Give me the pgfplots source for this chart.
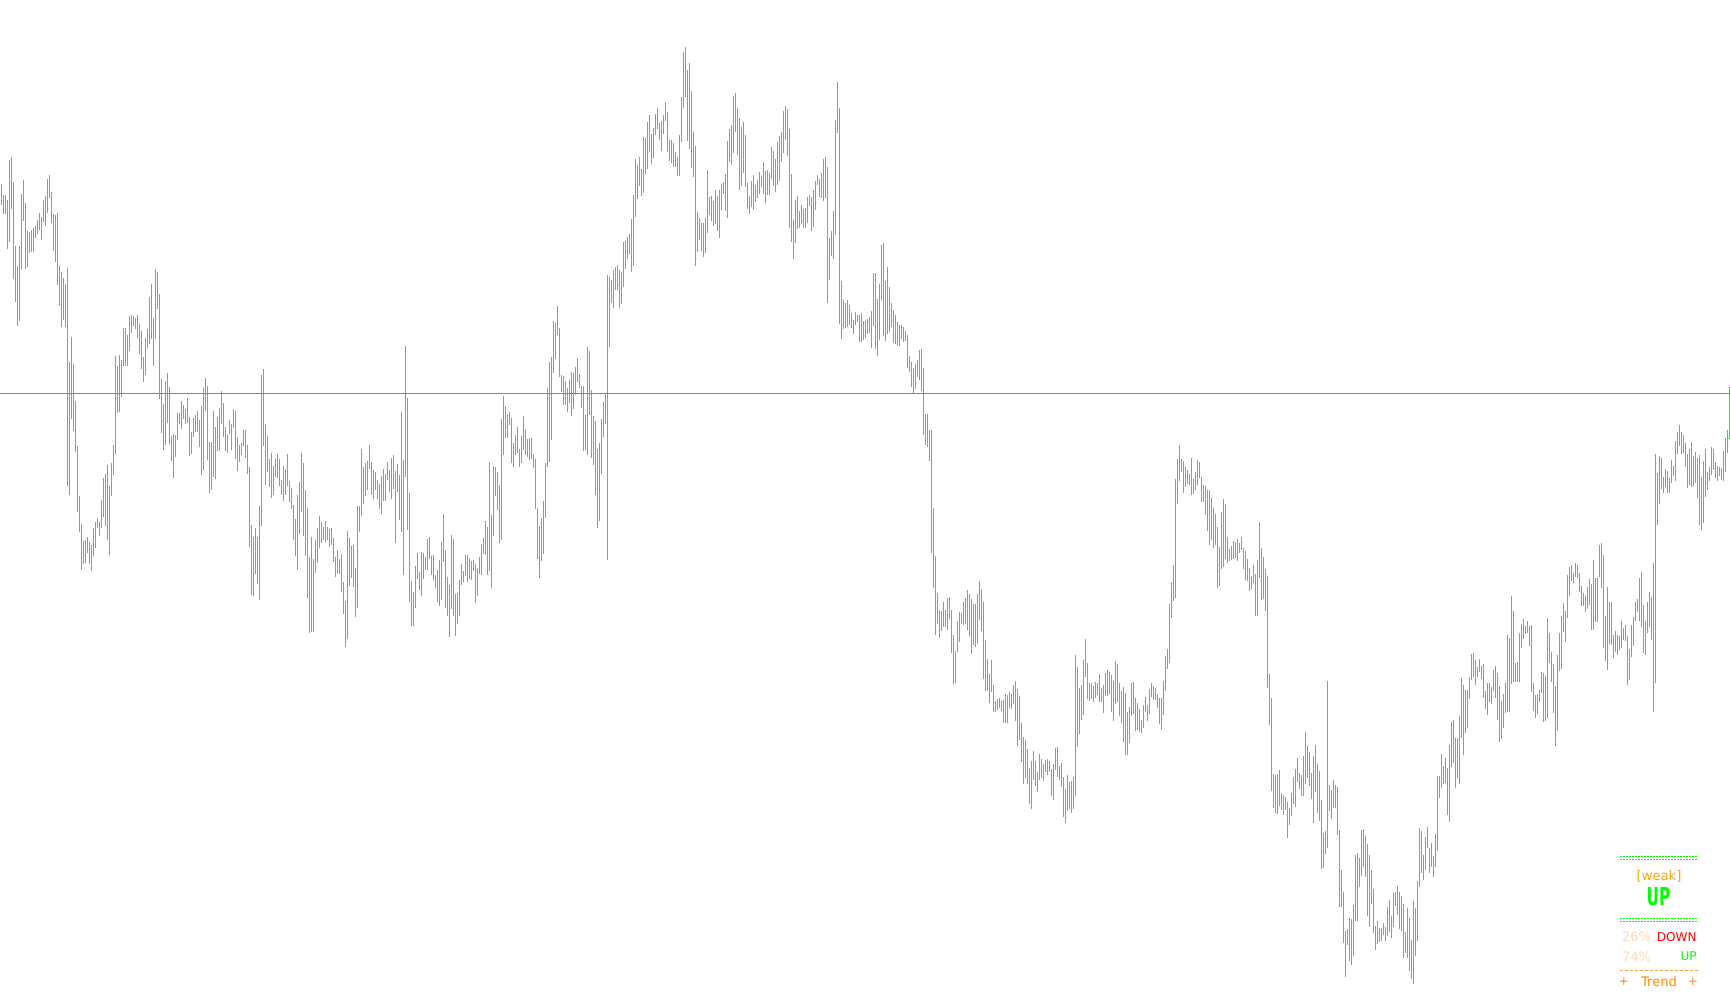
\documentclass[border=0pt]{standalone}
\usepackage{fontspec}
\setmainfont{DejaVu Sans}
\usepackage{pgfplots}
\pgfplotsset{compat=1.18}

\definecolor{barcol}{RGB}{30,235,30}
\definecolor{levelcol}{RGB}{119,136,153}
\definecolor{lime}{RGB}{0,255,0}
\definecolor{peach}{RGB}{255,218,185}
\definecolor{orange1}{RGB}{255,165,0}
\definecolor{orange2}{RGB}{255,140,0}

% bars are stored by screen position: t,b are rows at 3x, #1 left edge, #2 top edge of the block
\pgfplotsset{
  table/seg/.style 2 args={
    x expr=\coordindex*2+#1+1.5,
    y expr=#2+\thisrow{t}/3,
    y error expr=(\thisrow{b}-\thisrow{t})/3
  },
  hl/.style={
    draw=none, mark=none, forget plot,
    error bars/.cd, y dir=plus, y explicit, error mark=none,
    error bar style={barcol, line width=0.7bp}
  }
}

\begin{document}
\begin{tikzpicture}
\begin{axis}[
  scale only axis,
  width=865bp, height=502.5bp,
  xmin=0, xmax=1730, ymin=0, ymax=1005,
  y dir=reverse,
  ticks=none,
  axis line style={draw=none},
  axis background/.style={fill=white},
  clip=true
]
\addplot[hl] table[seg={0}{130}] {
t b
162 225
195 252
195 252
210 357
90 336
81 237
156 447
348 516
408 588
348 573
192 417
150 273
219 417
303 411
306 369
300 366
294 366
288 324
270 312
250 300
262 330
210 276
197 288
147 250
135 204
186 279
252 363
255 396
249 465
408 528
426 591
444 570
462 591
414 1068
696 1095
621 867
702 903
813 966
948 1146
1098 1206
1182 1320
1233 1302
1230 1299
1221 1269
1236 1302
1245 1323
1194 1278
1176 1254
1164 1194
1176 1218
1110 1194
1044 1161
1032 1188
1005 1230
1068 1275
999 1098
945 1035
678 972
708 849
675 846
690 801
594 708
594 708
615 708
558 663
555 609
558 588
564 597
555 624
582 672
603 717
681 756
624 735
597 654
501 642
462 627
564 708
417 627
426 537
492 807
747 909
822 960
753 945
729 879
771 942
918 993
912 1044
915 981
849 930
849 882
813 897
825 867
837 882
804 879
861 978
906 972
864 921
855 906
843 906
870 951
828 1035
774 1020
744 843
768 990
936 1089
936 1080
843 1041
891 1047
861 963
834 963
783 882
819 921
891 963
915 969
870 912
882 960
837 894
843 987
921 1023
945 996
939 975
900 948
900 984
945 1032
1011 1251
1185 1395
1221 1398
1194 1332
1221 1362
1128 1410
735 1188
717 948
882 1065
918 1026
987 1071
969 1104
1008 1095
987 1041
972 1044
987 1068
1050 1095
1008 1113
1017 1095
972 1068
1053 1116
1074 1137
1125 1230
1167 1278
1095 1320
1056 1212
};
\addplot[hl] table[seg={300}{340}] {
t b
339 516
369 588
450 648
504 774
651 879
591 876
657 876
600 699
564 669
528 624
546 609
560 600
543 606
561 600
567 621
564 615
594 666
651 711
630 699
657 702
642 756
726 822
783 921
573 897
594 738
618 714
615 741
684 831
498 804
498 576
327 528
381 492
369 468
363 450
315 388
366 465
390 477
396 450
420 477
432 507
408 522
387 483
402 483
366 420
390 456
354 477
345 447
393 609
372 456
405 540
216 576
360 705
18 411
174 570
459 786
723 858
756 858
678 804
639 717
696 750
636 768
639 717
651 690
597 690
591 657
648 705
645 720
705 744
690 786
660 798
606 780
522 666
630 804
711 828
735 891
585 807
597 828
762 888
759 852
720 828
};
\addplot[hl] table[seg={460}{300}] {
t b
792 855
813 846
765 828
765 846
774 837
783 840
780 813
792 909
804 888
771 822
732 825
714 762
663 765
681 825
486 813
645 864
498 708
501 588
516 630
555 729
357 720
288 465
318 414
342 414
336 375
354 489
429 501
405 465
381 459
447 501
408 489
348 450
387 465
417 471
417 480
414 477
462 504
477 627
624 777
678 834
654 783
603 762
489 654
264 501
186 486
171 420
63 219
69 177
18 105
84 231
225 276
228 315
243 315
264 336
240 309
216 348
219 327
201 285
174 246
222 264
258 324
258 453
345 450
141 465
153 345
270 474
348 495
363 585
447 684
429 663
357 522
306 411
279 372
-75 780
-70 141
-60 9
-90 24
-100 -30
-105 -30
-90 24
};
\addplot[hl] table[seg={620}{40}] {
t b
696 792
606 741
603 687
591 657
582 642
537 696
465 678
357 531
375 477
351 438
387 468
291 459
294 402
246 387
225 336
282 372
264 354
222 285
204 267
249 300
243 333
225 282
186 243
216 336
300 363
300 369
309 381
336 381
351 408
285 408
171 306
36 204
21 171
90 303
69 327
153 384
276 411
318 678
516 636
534 600
549 633
549 651
534 639
390 579
471 525
468 543
483 558
450 552
468 573
450 594
432 510
426 462
402 513
303 534
267 366
255 372
168 339
159 276
204 345
234 450
261 438
246 399
285 441
429 507
468 522
423 501
405 510
435 486
420 474
396 462
408 441
366 462
393 489
390 465
399 465
321 417
333 438
357 456
306 435
288 423
};
% this block was read at 2.53x
\addplot[hl] table[seg={780}{70}, y expr=70+\thisrow{t}/2.53, y error expr=(\thisrow{b}-\thisrow{t})/2.53] {
t b
157 233
104 210
92 177
99 217
149 400
264 435
379 478
329 438
320 402
357 400
341 390
351 400
349 400
321 388
315 344
321 407
303 397
281 354
266 292
277 321
260 324
225 331
220 325
245 589
425 531
407 471
357 478
126 417
30 159
96 642
534 680
582 655
589 652
582 649
594 645
615 652
632 668
612 645
620 638
620 688
615 688
635 682
635 678
631 668
625 665
609 703
513 647
513 706
579 723
541 683
443 582
438 673
534 685
498 668
549 662
589 650
607 690
620 693
637 695
645 698
645 680
651 688
660 685
670 754
723 764
738 802
754 818
744 807
733 777
708 785
706 812
754 923
870 948
870 953
912 989
910 1222
1108 1310
1229 1429
1323 1401
1366 1436
};
\addplot[hl] table[seg={940}{570}] {
t b
123 183
96 171
120 171
84 180
81 147
120 249
195 342
243 339
153 246
126 216
129 162
96 165
84 162
60 180
72 198
87 252
102 225
102 231
72 222
33 150
57 183
96 327
210 363
267 363
312 399
270 366
345 426
393 426
387 420
384 414
393 423
390 459
372 459
375 459
366 414
372 417
345 402
333 453
357 528
378 510
459 576
501 642
510 624
537 642
594 702
573 717
543 630
573 648
606 666
552 630
567 624
582 633
570 606
567 615
573 606
597 678
582 690
534 600
531 621
588 630
579 651
621 741
657 759
615 723
636 717
633 729
621 717
255 678
291 531
354 492
345 450
270 435
207 321
279 387
339 393
339 387
348 396
336 384
339 375
312 396
};
\addplot[hl] table[seg={1100}{430}] {
t b
774 816
765 849
729 798
720 798
726 792
735 846
750 873
693 822
702 816
759 858
783 879
771 936
789 975
846 975
831 939
759 858
756 852
804 903
819 900
837 906
870 909
825 894
801 846
825 873
777 852
759 801
768 810
774 810
792 834
804 882
804 900
753 855
678 783
657 717
522 699
456 564
405 513
147 504
87 222
45 153
87 126
93 189
111 171
120 162
132 165
84 195
147 192
126 180
90 165
96 144
141 216
165 216
168 255
180 303
180 345
204 330
234 354
252 345
291 474
351 468
246 417
207 411
222 387
321 399
357 393
348 390
333 387
336 384
327 393
339 369
321 360
354 417
363 450
387 453
414 483
438 477
405 459
432 558
390 558
276 444
};
\addplot[hl] table[seg={1260}{510}] {
t b
114 270
141 267
177 303
198 534
492 645
564 843
792 894
795 909
792 912
780 888
849 900
855 915
861 900
876 984
894 945
849 918
801 882
777 891
744 816
789 837
795 858
738 858
666 822
708 804
726 828
789 867
738 939
705 846
762 909
783 933
870 1077
969 1074
963 1032
513 1014
825 903
840 927
810 894
825 894
831 975
960 1191
1080 1191
1146 1299
1263 1401
1257 1305
1224 1353
1227 1365
1185 1338
1035 1233
1029 1233
1044 1131
960 1098
957 1071
978 1101
1002 1218
1035 1251
1080 1182
1137 1269
1248 1320
1233 1302
1254 1296
1254 1293
1239 1275
1251 1293
1191 1278
1170 1266
1218 1284
1149 1251
1146 1188
1128 1215
1146 1257
1158 1263
1182 1344
1266 1329
1194 1344
1224 1383
1290 1407
1173 1422
1194 1338
1113 1293
954 1131
};
\addplot[hl] table[seg={1420}{580}] {
t b
753 880
825 900
771 870
741 804
804 880
789 860
828 890
762 860
588 813
588 654
522 624
558 612
534 609
564 705
495 726
426 561
420 549
474 624
474 594
408 612
294 474
315 525
330 459
330 444
291 357
222 300
219 291
240 315
261 291
237 276
258 297
252 354
333 387
309 405
309 366
321 372
270 333
258 354
279 420
318 486
363 477
342 444
309 399
165 396
174 396
48 312
93 306
249 306
246 306
159 306
132 204
117 177
138 162
123 159
138 198
135 336
309 393
345 414
342 402
330 366
276 339
279 426
288 423
114 414
159 249
216 306
252 399
318 498
225 453
159 273
108 267
69 156
93 186
-15 114
-40 48
-45 3
-20 9
-50 -10
-45 -5
-20 36
};
\addplot[hl] table[seg={1580}{530}] {
t b
168 228
189 228
198 246
171 237
147 225
162 300
90 300
144 276
144 276
45 141
39 174
75 354
258 393
171 420
216 342
216 345
315 384
303 366
315 375
318 360
273 354
294 330
285 333
318 465
357 450
285 381
261 348
216 273
207 246
144 273
126 291
225 369
273 375
216 309
186 291
201 330
99 546
-228 459
};
\addplot[hl] table[seg={1656}{370}] {
t b
309 465
258 402
264 357
321 369
297 354
303 369
324 369
270 339
288 318
213 333
186 252
165 228
186 252
195 249
219 291
252 354
237 345
216 351
258 348
246 339
264 384
255 465
321 480
273 459
237 381
306 360
291 333
231 315
237 300
276 324
288 333
291 318
294 330
243 333
204 306
180 249
51 207
};

% level line
\addplot[levelcol, line width=0.5bp, forget plot] coordinates {(0,393.5) (1730,393.5)};

% trend panel
\addplot[lime, line width=0.75bp, dash pattern=on 1bp off 0.5bp, forget plot] coordinates {(1620,856.5) (1698,856.5)};
\addplot[lime, line width=0.75bp, dash pattern=on 1bp off 0.5bp, forget plot] coordinates {(1620,859.5) (1698,859.5)};
\addplot[lime, line width=0.75bp, dash pattern=on 1bp off 0.5bp, forget plot] coordinates {(1620,918.5) (1698,918.5)};
\addplot[lime, line width=0.75bp, dash pattern=on 1bp off 0.5bp, forget plot] coordinates {(1620,921.5) (1698,921.5)};
\addplot[orange2!80, line width=0.5bp, dash pattern=on 1.5bp off 1bp, forget plot] coordinates {(1620,970.5) (1698,970.5)};

\node[inner sep=0pt, text=orange1, font=\fontsize{6.6}{7}\selectfont] at (axis cs:1659,876) {[weak]};
\node[inner sep=0pt, text=lime, xscale=0.62, font=\fontsize{12.4}{14}\selectfont\bfseries] at (axis cs:1658.5,897) {UP};
\node[inner sep=0pt, text=peach, font=\fontsize{6.5}{7}\selectfont] at (axis cs:1636.5,937) {26\%};
\node[inner sep=0pt, text=red, anchor=east, font=\fontsize{6.05}{7}\selectfont] at (axis cs:1697,937) {DOWN};
\node[inner sep=0pt, text=peach, font=\fontsize{6.5}{7}\selectfont] at (axis cs:1636.5,956.5) {74\%};
\node[inner sep=0pt, text=lime, anchor=east, font=\fontsize{6.05}{7}\selectfont] at (axis cs:1697,956.5) {UP};
\node[inner sep=0pt, text=orange2, font=\fontsize{6.6}{7}\selectfont] at (axis cs:1659,981.5) {Trend};
\node[inner sep=0pt, text=orange2, font=\fontsize{6.05}{7}\selectfont] at (axis cs:1624,981.5) {+};
\node[inner sep=0pt, text=orange2, font=\fontsize{6.05}{7}\selectfont] at (axis cs:1693,981.5) {+};
\end{axis}
\end{tikzpicture}
\end{document}
